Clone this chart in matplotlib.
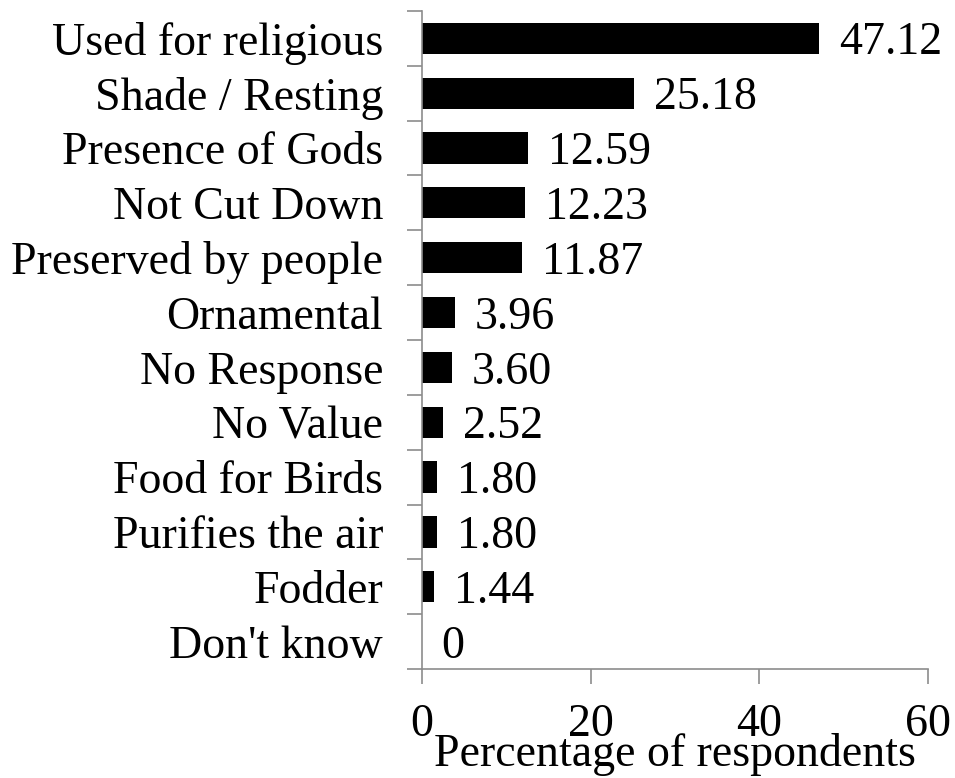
import matplotlib
matplotlib.use("Agg")
import matplotlib.pyplot as plt
import numpy as np

categories = ["Used for religious", "Shade / Resting", "Presence of Gods", "Not Cut Down",
              "Preserved by people", "Ornamental", "No Response", "No Value",
              "Food for Birds", "Purifies the air", "Fodder", "Don't know"]
values = [47.12, 25.18, 12.59, 12.23, 11.87, 3.96, 3.60, 2.52, 1.80, 1.80, 1.44, 0]
value_labels = ["47.12", "25.18", "12.59", "12.23", "11.87", "3.96", "3.60", "2.52",
                "1.80", "1.80", "1.44", "0"]
x_ticks = [0, 20, 40, 60]

plt.rcParams['font.family'] = ['Liberation Serif', 'DejaVu Serif']
fs = 33
axis_grey = '#8c8c8c'

fig = plt.figure(figsize=(9.55, 7.78), dpi=100)
ax = fig.add_axes([0.4419, 0.140, 0.5298, 0.8460])

ypos = np.arange(len(categories))
ax.barh(ypos, values, height=0.57, color='black')

# value labels to the right of each bar
for y, v, lab in zip(ypos, values, value_labels):
    ax.annotate(lab, (v, y), xytext=(14, -3.5), textcoords='offset points',
                va='center', ha='left', fontsize=fs)

ax.set_xlim(0, 60)
ax.set_ylim(len(categories) - 0.5, -0.5)
ax.set_xticks(x_ticks)
ax.set_xticklabels([str(t) for t in x_ticks], fontsize=fs)
ax.set_yticks(ypos)
ax.set_yticklabels(categories, fontsize=fs)
ax.tick_params(axis='y', which='major', length=0, pad=28)
# tick marks sit between the categories
ax.set_yticks(np.arange(len(categories) + 1) - 0.5, minor=True)
ax.tick_params(axis='y', which='minor', length=11, color=axis_grey, width=1.2)
ax.tick_params(axis='x', length=11, color=axis_grey, width=1.2, pad=14)
ax.set_xlabel("Percentage of respondents", fontsize=fs, labelpad=-9.5)

for side in ['top', 'right']:
    ax.spines[side].set_visible(False)
for side in ['left', 'bottom']:
    ax.spines[side].set_color(axis_grey)
    ax.spines[side].set_linewidth(1.2)

fig.savefig("out.png", dpi=100)
